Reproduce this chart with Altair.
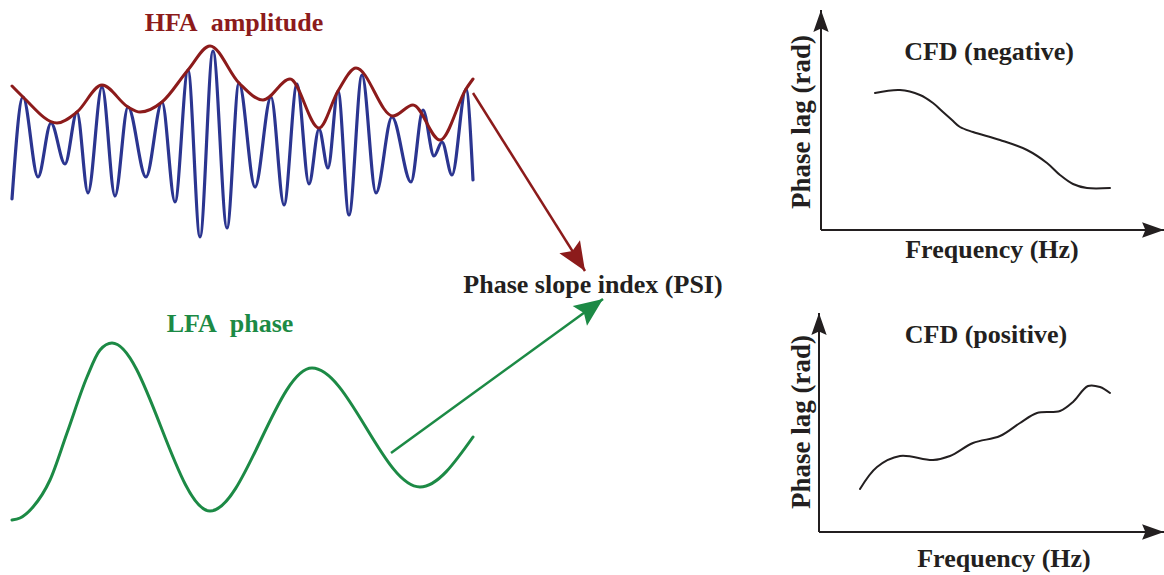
import altair as alt
import pandas as pd

W, H = 1164, 575

# ---- HFA signal (blue), read at its peaks and troughs (canvas units, y down)
hfa_x = [12, 23, 38, 51, 65, 77, 88, 102, 115, 128, 146, 162, 175, 188, 200, 213, 227, 239, 255,
         271, 284, 297, 309, 319, 328, 338, 349, 362, 376, 392, 411, 423, 434, 442, 452, 466, 473]
hfa_y = [199, 97, 177, 123, 164, 112, 193, 87, 196, 107, 177, 102, 202, 70, 237, 51, 228, 83, 187,
         97, 205, 84, 184, 129, 168, 91, 215, 75, 193, 117, 182, 110, 156, 142, 175, 89, 180]

# ---- HFA amplitude envelope (dark red)
env_x = [12, 23, 57, 77, 102, 128, 140, 162, 188, 210, 239, 263, 290, 319, 338, 356, 393, 413, 440, 466, 473]
env_y = [86, 97, 123, 112, 85, 107, 112, 102, 70, 46, 83, 100, 79, 128, 91, 68, 116, 105, 140, 89, 79]

# ---- LFA phase signal (green)
lfa_x = [12, 20, 33, 50, 67, 87, 100, 112, 210, 312, 420, 473]
lfa_y = [520, 518, 507, 480, 433, 377, 350, 343, 511, 368, 487, 437]

# ---- CFD curves
neg_x = [875, 900, 920, 933, 943, 952, 960, 973, 1000, 1027, 1047, 1060, 1073, 1087, 1110]
neg_y = [93, 90, 95, 103, 112, 120, 127, 132, 140, 150, 163, 175, 184, 188, 188]
pos_x = [860, 877, 900, 933, 950, 973, 1000, 1020, 1037, 1060, 1073, 1088, 1100, 1110]
pos_y = [489, 467, 456, 460, 456, 443, 436, 423, 413, 411, 402, 386, 387, 393]

# ---- arrows: start and tip
red_arrow = dict(x=[473], y=[93], x2=[585], y2=[271])
green_arrow = dict(x=[391], y=[453], x2=[603], y2=[299])

# ---- CFD panel axes (origin, y-axis tip, x-axis tip)
axes_x0 = [821, 819]
axes_y0 = [230, 532]
axes_ytip = [10, 313]
axes_xtip = [1164, 1164]

# ---- labels
red_label = ["HFA\u00a0\u00a0amplitude"]
green_label = ["LFA\u00a0\u00a0phase"]
psi_label = ["Phase slope index (PSI)"]
titles = ["CFD (negative)", "CFD (positive)"]
xlabels = ["Frequency (Hz)", "Frequency (Hz)"]
ylabels = ["Phase lag (rad)", "Phase lag (rad)"]

XS = alt.Scale(domain=[0, W], nice=False, zero=False)
YS = alt.Scale(domain=[0, H], nice=False, zero=False, reverse=True)

RED = "#8c1b1b"
BLUE = "#2b3590"
GREEN = "#1c8a45"
BLACK = "#231f20"
FONT = "Liberation Serif"
HEAD_BIG = "M0,0L-0.85,2L0,1.65L0.85,2Z"
HEAD_AX = "M0,0L-0.7,2L0,1.7L0.7,2Z"


def X(f="x"):
    return alt.X(f + ":Q", scale=XS, axis=None)


def Y(f="y"):
    return alt.Y(f + ":Q", scale=YS, axis=None)


def curve(xs, ys, color, width, interp="monotone"):
    df = pd.DataFrame({"x": xs, "y": ys})
    return alt.Chart(df).mark_line(interpolate=interp, color=color, strokeWidth=width,
                                   strokeCap="round").encode(x=X(), y=Y())


def arrow(d, color, width, shape, size, angle):
    df = pd.DataFrame(d)
    shaft = alt.Chart(df).mark_rule(color=color, strokeWidth=width).encode(
        x=X(), y=Y(), x2="x2:Q", y2="y2:Q")
    head = alt.Chart(df).mark_point(shape=shape, filled=True, opacity=1, color=color,
                                    size=size, angle=angle, strokeWidth=0).encode(
        x=X("x2"), y=Y("y2"))
    return shaft + head


def text(labels, xs, ys, color, size=26, angle=0):
    df = pd.DataFrame({"t": labels, "x": xs, "y": ys})
    kw = dict(font=FONT, fontWeight="bold", fontSize=size, color=color,
              align="center", baseline="alphabetic")
    if angle:
        kw["angle"] = angle
    return alt.Chart(df).mark_text(**kw).encode(x=X(), y=Y(), text="t:N")


layers = []
layers.append(curve(hfa_x, hfa_y, BLUE, 3.2))
layers.append(curve(env_x, env_y, RED, 3))
layers.append(curve(lfa_x, lfa_y, GREEN, 3))
layers.append(curve(neg_x, neg_y, BLACK, 2, "catmull-rom"))
layers.append(curve(pos_x, pos_y, BLACK, 2, "catmull-rom"))

# red & green arrows (angle measured clockwise from "up")
layers.append(arrow(red_arrow, RED, 2.5, HEAD_BIG, 820, 147.7))
layers.append(arrow(green_arrow, GREEN, 2.5, HEAD_BIG, 820, 54.0))

# CFD axes
for i in range(2):
    ya = {"x": [axes_x0[i]], "y": [axes_y0[i]], "x2": [axes_x0[i]], "y2": [axes_ytip[i]]}
    xa = {"x": [axes_x0[i]], "y": [axes_y0[i]], "x2": [axes_xtip[i]], "y2": [axes_y0[i]]}
    layers.append(arrow(ya, BLACK, 2, HEAD_AX, 480, 0))
    layers.append(arrow(xa, BLACK, 2, HEAD_AX, 480, 90))

layers.append(text(red_label, [234], [31], RED))
layers.append(text(green_label, [230], [332], GREEN))
layers.append(text(psi_label, [593], [293], BLACK))
layers.append(text(titles, [989, 986], [60, 343], BLACK))
layers.append(text(xlabels, [992, 1004], [258, 567], BLACK))
layers.append(text(ylabels, [810, 810], [122, 422], BLACK, size=27, angle=270))

chart = alt.layer(*layers).properties(
    width=W, height=H, background="white", padding=0,
    autosize=alt.AutoSizeParams(type="none")
).configure_view(stroke=None)

chart.save("out.html", embed_options={"renderer": "svg", "actions": False})
